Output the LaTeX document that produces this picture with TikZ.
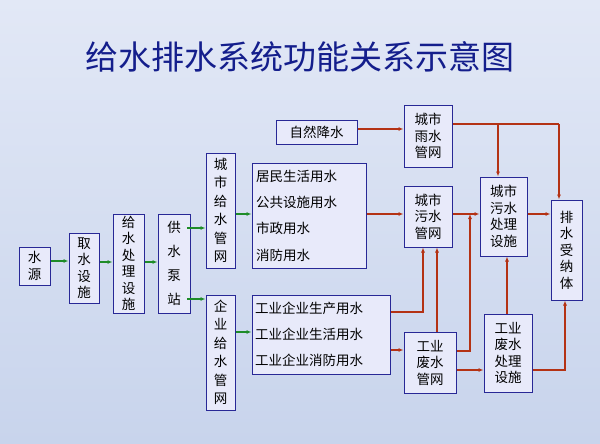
\documentclass[tikz,border=0pt]{standalone}
\usepackage{fontspec}
\setmainfont{Noto Sans CJK SC}
\usetikzlibrary{arrows.meta}
\definecolor{bgA}{RGB}{226,232,246}
\definecolor{bgB}{RGB}{200,212,236}
\definecolor{navy}{RGB}{40,40,150}
\definecolor{boxfill}{RGB}{232,234,250}
\definecolor{ttl}{RGB}{20,30,140}
\definecolor{grn}{RGB}{30,140,40}
\definecolor{rd}{RGB}{180,50,20}
\begin{document}
\begin{tikzpicture}[x=1pt,y=-1pt,
  box/.style={draw=navy,line width=1pt,fill=boxfill,inner sep=0pt,align=center,font=\fontsize{13.5}{16.5}\selectfont,anchor=center},
  ga/.style={draw=grn,line width=1.3pt,-{Latex[length=5pt,width=4pt]}},
  ra/.style={draw=rd,line width=1.3pt,-{Latex[length=5pt,width=4pt]}},
  rl/.style={draw=rd,line width=1.3pt}]
\useasboundingbox (0,0) rectangle (600,444);
\shade[top color=bgA,bottom color=bgB] (0,0) rectangle (600,444);
\node[font=\fontsize{33}{36}\selectfont,text=ttl] (title) at (300,57) {给水排水系统功能关系示意图};
\newcommand\bx[6]{\node[box,minimum width=#4-#2,minimum height=#5-#3] (#1) at ({(#2+#4)/2},{(#3+#5)/2}) {#6};}
\bx{ws}{19}{247}{50}{285}{水\\源}
\bx{qs}{69}{233}{99}{303}{取\\水\\设\\施}
\bx{gc}{113}{214}{144}{313}{给\\水\\处\\理\\设\\施}
\node[box,minimum width=32,minimum height=99,font=\fontsize{13.5}{24}\selectfont] (gb) at (174,263.5) {供\\水\\泵\\站};
\node[box,minimum width=29,minimum height=115,font=\fontsize{13.5}{18.5}\selectfont] (cg) at (220.5,210.5) {城\\市\\给\\水\\管\\网};
\node[box,minimum width=29,minimum height=115,font=\fontsize{13.5}{18.5}\selectfont] (qg) at (220.5,352.5) {企\\业\\给\\水\\管\\网};
\node[box,minimum width=114,minimum height=105,align=left,font=\fontsize{13.5}{26.3}\selectfont,text width=106] (jm) at (309,215.5) {居民生活用水\\公共设施用水\\市政用水\\消防用水};
\node[box,minimum width=138,minimum height=79,align=left,font=\fontsize{13.5}{26}\selectfont,text width=132] (gy) at (321,334.5) {工业企业生产用水\\工业企业生活用水\\工业企业消防用水};
\bx{zr}{276}{120}{357}{144}{自然降水}
\bx{ys}{404}{105}{452}{167}{城市\\雨水\\管网}
\bx{ws2}{404}{186}{452}{247}{城市\\污水\\管网}
\bx{fs}{404}{332}{456}{393}{工业\\废水\\管网}
\bx{wc}{480}{177}{527}{256}{城市\\污水\\处理\\设施}
\bx{fc}{484}{314}{532}{392}{工业\\废水\\处理\\设施}
\bx{ps}{551}{200}{582}{300}{排\\水\\受\\纳\\体}
% green
\draw[ga] (ws.east |- 0,261) -- (qs.west |- 0,261);
\draw[ga] (qs.east |- 0,262) -- (gc.west |- 0,262);
\draw[ga] (gc.east |- 0,262) -- (gb.west |- 0,262);
\draw[ga] (187,228) -- (cg.west |- 0,228);
\draw[ga] (187,299) -- (qg.west |- 0,299);
\draw[ga] (cg.east |- 0,214) -- (jm.west |- 0,214);
\draw[ga] (qg.east |- 0,332) -- (gy.west |- 0,332);
% red
\draw[ra] (zr.east |- 0,129) -- (ys.west |- 0,129);
\coordinate (c1) at (559,124);
\draw[rl] (ys.east |- 0,124) -- (c1);
\draw[ra] (c1) -- (ps.north -| c1);
\draw[ra] (498,124) -- (wc.north -| 498,0);
\draw[ra] (jm.east |- 0,214) -- (ws2.west |- 0,214);
\draw[ra] (ws2.east |- 0,214) -- (wc.west |- 0,214);
\draw[ra] (gy.east |- 0,312) -- (423,312) -- (ws2.south -| 423,0);
\draw[ra] (gy.east |- 0,350) -- (fs.west |- 0,350);
\draw[ra] (fs.north -| 437,0) -- (ws2.south -| 437,0);
\draw[ra] (fs.east |- 0,351) -- (470,351) -- (470,214);
\draw[ra] (fs.east |- 0,370) -- (fc.west |- 0,370);
\draw[ra] (fc.north -| 507,0) -- (wc.south -| 507,0);
\draw[ra] (wc.east |- 0,214) -- (ps.west |- 0,214);
\draw[ra] (fc.east |- 0,370) -- (565,370) -- (ps.south -| 565,0);
\end{tikzpicture}
\end{document}
